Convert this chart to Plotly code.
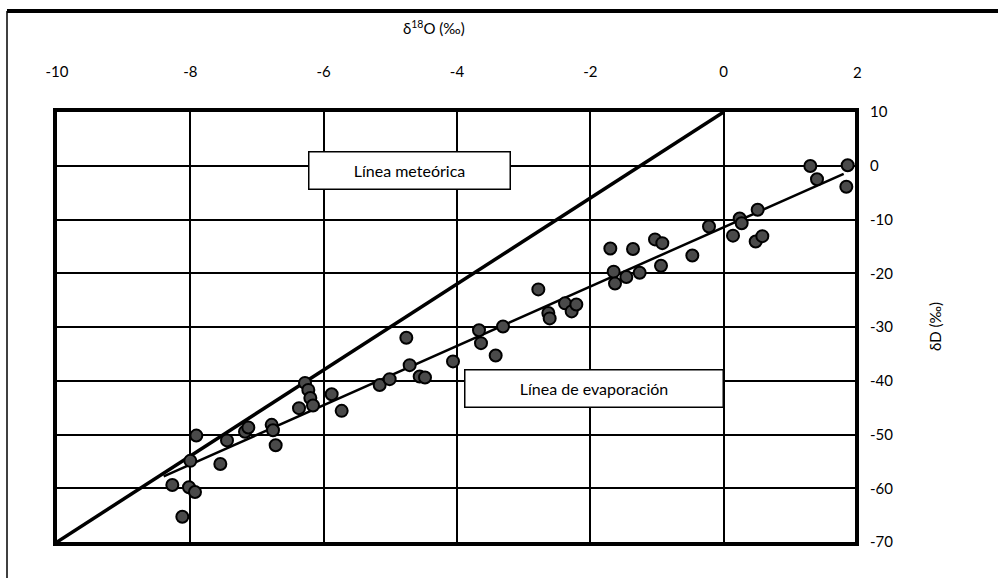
import plotly.graph_objects as go

# --- data ---
d18O = [-8.27, -8.12, -8.02, -7.93, -8.00, -7.91, -7.55, -7.45, -7.18, -7.13,
        -6.78, -6.76, -6.72, -6.37, -6.28, -6.23, -6.20, -6.16, -5.88, -5.73,
        -5.16, -5.01, -4.76, -4.71, -4.56, -4.48, -4.06, -3.67, -3.64, -3.42,
        -3.31, -2.78, -2.63, -2.61, -2.38, -2.28, -2.21,
        -1.70, -1.65, -1.63, -1.46, -1.36, -1.26, -1.03, -0.92, -0.94, -0.47,
        -0.22, 0.14, 0.24, 0.27, 0.51, 0.48, 0.58, 1.30, 1.40, 1.86, 1.84]
dD = [-59.4, -65.3, -59.8, -60.7, -54.9, -50.2, -55.5, -51.1, -49.5, -48.7,
      -48.2, -49.2, -52.0, -45.1, -40.4, -41.7, -43.2, -44.6, -42.5, -45.6,
      -40.8, -39.7, -32.0, -37.1, -39.2, -39.4, -36.4, -30.6, -33.0, -35.3,
      -29.9, -23.0, -27.4, -28.4, -25.6, -27.1, -25.8,
      -15.4, -19.7, -21.9, -20.7, -15.5, -19.9, -13.7, -14.4, -18.6, -16.7,
      -11.3, -13.0, -9.8, -10.7, -8.2, -14.1, -13.1, -0.05, -2.5, 0.1, -3.9]

meteoric_x = [-10, 0]
meteoric_y = [-70, 10]
evap_x = [-8.4, 1.8]
evap_y = [-57.8, -1.5]

x_ticks = [-10, -8, -6, -4, -2, 0, 2]
y_ticks = [10, 0, -10, -20, -30, -40, -50, -60, -70]

labels = [
    dict(text="Línea meteórica", x=-4.71, y=-0.8, w=196),
    dict(text="Línea de evaporación", x=-1.95, y=-41.5, w=253),
]

FONT = "Lato, 'Open Sans', sans-serif"

L, R, T, B = 57, 855, 112, 542
W, H = 998, 578
X_MIN, X_MAX = -10, 1.97


def px(xp):
    return (xp - L) / (R - L)


def py(yp):
    return (B - yp) / (B - T)


fig = go.Figure()
fig.add_trace(go.Scatter(x=meteoric_x, y=meteoric_y, mode="lines",
                         line=dict(color="black", width=3.5), hoverinfo="skip"))
fig.add_trace(go.Scatter(x=evap_x, y=evap_y, mode="lines",
                         line=dict(color="black", width=2.5), hoverinfo="skip"))
fig.add_trace(go.Scatter(x=d18O, y=dD, mode="markers",
                         marker=dict(size=12, color="#4a4a4a",
                                     line=dict(color="black", width=2))))

for lb in labels:
    fig.add_annotation(x=lb["x"], y=lb["y"], xref="x", yref="y", text=lb["text"],
                       showarrow=False, bgcolor="white", bordercolor="black",
                       borderwidth=1.5, borderpad=2, width=lb["w"], height=32,
                       font=dict(family=FONT, size=16, color="black"))

fig.add_annotation(x=px(434), y=py(28), xref="paper", yref="paper",
                   xanchor="center", yanchor="middle",
                   text="δ<sup>18</sup>O (‰)", showarrow=False,
                   font=dict(family=FONT, size=15, color="black"))
fig.add_annotation(x=px(935), y=py(327), xref="paper", yref="paper", text="δD (‰)",
                   xanchor="center", yanchor="middle",
                   textangle=-90, showarrow=False,
                   font=dict(family=FONT, size=15, color="black"))

# tick label "2" sits just beyond the plotted range in the reference
x2_frac = (x_ticks[-1] - X_MIN) / (X_MAX - X_MIN)
fig.add_annotation(x=x2_frac, y=py(72), xref="paper", yref="paper", text=str(x_ticks[-1]),
                   showarrow=False, xanchor="center", yanchor="middle",
                   font=dict(family=FONT, size=15, color="black"))

# outer frame lines
fig.add_shape(type="line", xref="paper", yref="paper", x0=px(7), x1=px(998),
              y0=py(11), y1=py(11), line=dict(color="black", width=4))
fig.add_shape(type="line", xref="paper", yref="paper", x0=px(7), x1=px(7),
              y0=py(11), y1=py(578), line=dict(color="black", width=1.5))

fig.update_layout(
    width=W, height=H,
    margin=dict(l=L, r=W - R, t=T, b=H - B),
    plot_bgcolor="white", paper_bgcolor="white",
    showlegend=False,
    font=dict(family=FONT, size=15, color="black"),
    xaxis=dict(range=[X_MIN, X_MAX], side="top", tickvals=x_ticks,
               ticktext=[str(v) for v in x_ticks], showgrid=True,
               gridcolor="black", gridwidth=2, zeroline=False,
               showline=True, linecolor="black", linewidth=4, mirror=True,
               ticks="", ticklabelstandoff=25),
    yaxis=dict(range=[-70, 10], side="right", tickvals=y_ticks,
               ticktext=[str(v) for v in y_ticks], showgrid=True,
               gridcolor="black", gridwidth=2, zeroline=False,
               showline=True, linecolor="black", linewidth=4, mirror=True,
               ticks="", ticklabelstandoff=8),
)

fig.write_html("out.html", config={"displayModeBar": False},
               post_script="document.body.style.margin='0';document.body.style.padding='0';")
